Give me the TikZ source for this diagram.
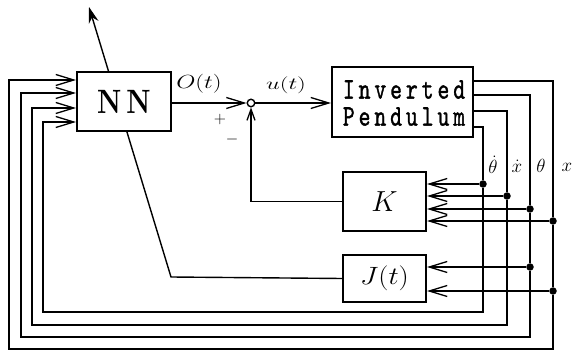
\RequirePackage{fix-cm}
\documentclass[tikz,border=0pt]{standalone}
\usepackage{fontspec}
\usepackage{graphicx}
\usetikzlibrary{arrows.meta}
\newfontfamily\pendfont{lmmono10-regular.otf}[FakeBold=1.4]
\newfontfamily\nnfont{lmroman10-bold.otf}
\begin{document}
\begin{tikzpicture}[x=1pt,y=-1pt,
  blk/.style={draw,line width=2pt,fill=white,inner sep=0pt},
  ln/.style={line width=1.4pt},
  arr/.style={ln,-{Straight Barb[length=18pt,width=11pt,line width=1.3pt]}},
  sarr/.style={ln,-{Straight Barb[length=11pt,width=8pt,line width=1.3pt]}},
  dot/.style={circle,fill,inner sep=0pt,minimum size=7.5pt},
  lbl/.style={inner sep=0pt,font=\fontsize{19}{21}\selectfont}]
\useasboundingbox (0,0) rectangle (575,352);
% blocks
\node[blk,minimum width=141pt,minimum height=70pt] (pend) at (402.5,102) {};
\node[align=center,inner sep=0pt,font=\fontsize{30}{27}\selectfont\pendfont] at (404,103)
 {\scalebox{0.75}[1]{\makebox[163pt][s]{I\hfil n\hfil v\hfil e\hfil r\hfil t\hfil e\hfil d}}\\
  \scalebox{0.75}[1]{\makebox[163pt][s]{P\hfil e\hfil n\hfil d\hfil u\hfil l\hfil u\hfil m}}};
\node[blk,minimum width=83pt,minimum height=59pt,font=\fontsize{29}{30}\selectfont] (K) at (384.5,201.5) {$K$};
\node[blk,minimum width=83pt,minimum height=47pt,font=\fontsize{25}{26}\selectfont] (J) at (384.5,278.5) {\scalebox{1.15}[1]{$J(t)$}};
\node[circle,draw,line width=1.4pt,fill=white,inner sep=0pt,minimum size=7.5pt] (sum) at (251,103) {};
% J output to the NN weight-adjust arrow
\coordinate (jbend) at (171,277);
\coordinate (nnout) at (89,7);
\draw[ln,-{Stealth[length=16pt,width=10pt]}] (J.west) -- (jbend) -- (nnout);
\node[blk,minimum width=94pt,minimum height=59pt,font=\fontsize{27}{28}\selectfont\nnfont] (NN) at (124,101.5) {\scalebox{1}[1.25]{N\kern5pt N}};
% dots
\node[dot] (dthd) at (483,184) {};
\node[dot] (dxd) at (507,196) {};
\node[dot] (dth1) at (530,209) {};
\node[dot] (dx1) at (553,221) {};
\node[dot] (dth2) at (530,267) {};
\node[dot] (dx2) at (553,291) {};
% feedback loops
\draw[arr] (pend.east|-0,81) -| (dx1) -- (dx2) -- (553,349) -| (9,80) -- (NN.west|-0,80);
\draw[arr] (pend.east|-0,95) -| (dth1) -- (dth2) -- (530,337) -| (21,93) -- (NN.west|-0,93);
\draw[arr] (pend.east|-0,111) -| (dxd) -- (507,325) -| (32,108) -- (NN.west|-0,108);
\draw[arr] (pend.east|-0,127) -| (dthd) -- (483,312) -| (43,122) -- (NN.west|-0,122);
% inputs to K and J
\draw[arr] (dthd) -- (K.east|-dthd);
\draw[arr] (dxd) -- (K.east|-dxd);
\draw[arr] (dth1) -- (K.east|-dth1);
\draw[arr] (dx1) -- (K.east|-dx1);
\draw[arr] (dth2) -- (J.east|-dth2);
\draw[arr] (dx2) -- (J.east|-dx2);
% forward path
\draw[arr] (NN.east|-sum) -- (sum.west);
\draw[arr] (sum.east) -- (pend.west|-sum);
\draw[sarr] (K.west) -| (sum.south);
% labels
\node[lbl] at (199,84) {\scalebox{1.3}[1]{$O(t)$}};
\node[lbl,font=\fontsize{17}{18}\selectfont] at (286,85) {\scalebox{1.45}[1]{$u(t)$}};
\node[lbl,font=\fontsize{16}{16}\selectfont] at (220,120) {$+$};
\node[lbl,font=\fontsize{16}{16}\selectfont] at (232,140) {$-$};
\node[lbl] at (493,165) {$\dot\theta$};
\node[lbl] at (517,166) {$\dot x$};
\node[lbl] at (541,166) {$\theta$};
\node[lbl] at (567,167) {$x$};
\end{tikzpicture}
\end{document}
